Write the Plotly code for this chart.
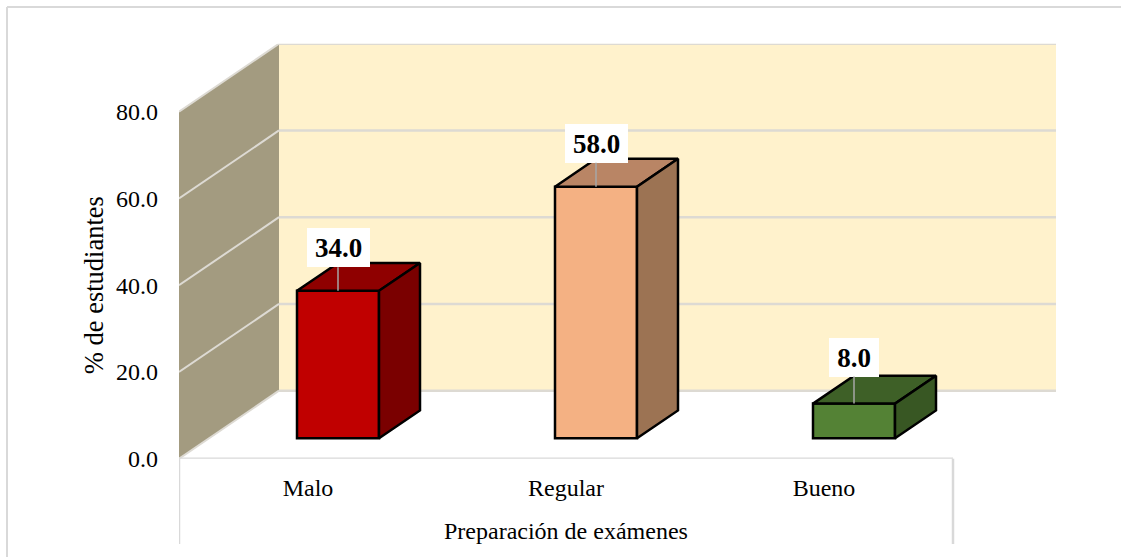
import plotly.graph_objects as go

# ---- data ----
categories = ["Malo", "Regular", "Bueno"]
values = [34.0, 58.0, 8.0]
y_ticks = [0, 20, 40, 60, 80]
x_title = "Preparación de exámenes"
y_title = "% de estudiantes"

front_colors = ["#C00000", "#F4B183", "#548235"]
top_colors = ["#8F0000", "#B98565", "#3E6027"]
side_colors = ["#7A0000", "#9C7353", "#385723"]

# ---- layout geometry (pixels of the 1121x557 page) ----
W, H = 1121, 557
PLOT_L, PLOT_R, PLOT_B, PLOT_T = 179, 1056, 458.7, 43.7
CAT_PX = 258.0        # width of one category on the front plane
VAL_PX = 347 / 80.0   # pixels per value unit
DEPTH_DX = 100 / CAT_PX   # oblique shift of the full depth, in category units
DEPTH_DY = 68 / VAL_PX    # same, in value units
BAR_W = 82 / CAT_PX
BAR_D0, BAR_D1 = 0.30, 0.71

X0 = -0.5
X_END = X0 + (PLOT_R - PLOT_L) / CAT_PX
Y_END = (PLOT_B - PLOT_T) / VAL_PX
X_FRONT_END = X0 + len(categories)


def proj(x, v, d):
    """Oblique projection of (category x, value v, depth d) to axis coords."""
    return x + d * DEPTH_DX, v + d * DEPTH_DY


def poly(points):
    xs, ys = zip(*[proj(*p) for p in points])
    return list(xs) + [xs[0]], list(ys) + [ys[0]]


def path(points):
    pts = [proj(*p) for p in points]
    return "M " + " L ".join(f"{x:.5f},{y:.5f}" for x, y in pts) + " Z"


GRID = "#DDDAD3"
WALL = "#A39B80"
BACK = "#FFF2CC"
FRAME = "#D9D9D9"
FONT = "Liberation Serif"

shapes = []
# back wall and left wall
shapes.append(dict(type="path", layer="below", xref="x", yref="y", line_width=0, fillcolor=BACK,
                   path=path([(X0, 0, 1), (X_END - DEPTH_DX, 0, 1), (X_END - DEPTH_DX, y_ticks[-1], 1), (X0, y_ticks[-1], 1)])))
shapes.append(dict(type="path", layer="below", xref="x", yref="y", line_width=0, fillcolor=WALL,
                   path=path([(X0, 0, 0), (X0, 0, 1), (X0, y_ticks[-1], 1), (X0, y_ticks[-1], 0)])))
# gridlines on both walls
for t in y_ticks:
    x1, y1 = proj(X0, t, 0)
    x2, y2 = proj(X0, t, 1)
    shapes.append(dict(type="line", layer="below", xref="x", yref="y", x0=x1, y0=y1, x1=x2, y1=y2,
                       line=dict(color=GRID, width=2)))
    shapes.append(dict(type="line", layer="below", xref="x", yref="y", x0=x2, y0=y2, x1=X_END, y1=y2,
                       line=dict(color=GRID, width=2.5)))
# category axis frame
shapes.append(dict(type="line", layer="below", xref="x", yref="y", x0=X0, x1=X_FRONT_END, y0=0, y1=0,
                   line=dict(color=FRAME, width=2.5)))
for xv in (X0, X_FRONT_END):
    shapes.append(dict(type="line", layer="below", xref="x", yref="paper", x0=xv, x1=xv,
                       y0=(H - PLOT_B) / H, y1=(H - 544) / H, line=dict(color=FRAME, width=2.5)))
# outer chart frame
shapes.append(dict(type="line", xref="paper", yref="paper", x0=7 / W, x1=1, y0=1 - 7 / H, y1=1 - 7 / H,
                   line=dict(color=FRAME, width=2)))
shapes.append(dict(type="line", xref="paper", yref="paper", x0=7 / W, x1=7 / W, y0=0, y1=1 - 7 / H,
                   line=dict(color=FRAME, width=2)))

fig = go.Figure()

# front faces
bar_x = [proj(i, 0, BAR_D0)[0] for i in range(len(categories))]
bar_base = [proj(i, 0, BAR_D0)[1] for i in range(len(categories))]
fig.add_trace(go.Bar(x=bar_x, y=values, base=bar_base, width=BAR_W,
                     marker=dict(color=front_colors, line=dict(color="black", width=2.5)),
                     hoverinfo="skip", showlegend=False))

# top and side faces
for i, v in enumerate(values):
    l, r = i - BAR_W / 2, i + BAR_W / 2
    tx, ty = poly([(l, v, BAR_D0), (r, v, BAR_D0), (r, v, BAR_D1), (l, v, BAR_D1)])
    sx, sy = poly([(r, 0, BAR_D0), (r, 0, BAR_D1), (r, v, BAR_D1), (r, v, BAR_D0)])
    for xs, ys, c in ((tx, ty, top_colors[i]), (sx, sy, side_colors[i])):
        fig.add_trace(go.Scatter(x=xs, y=ys, mode="lines", fill="toself", fillcolor=c,
                                 line=dict(color="black", width=2.5), hoverinfo="skip",
                                 showlegend=False, cliponaxis=False))

annotations = []
# data labels with leader lines
label_ay = [-43, -43.5, -46.5]
label_w = [63, 63, 50]
for i, v in enumerate(values):
    x, y = proj(i, v, BAR_D0)
    annotations.append(dict(x=x, y=y, xref="x", yref="y", text=f"<b>{v:.1f}</b>", ax=0, ay=label_ay[i],
                            showarrow=True, arrowhead=0, arrowcolor="#A6A6A6", arrowwidth=1.5, standoff=0,
                            bgcolor="white", width=label_w[i], height=39, borderpad=0, borderwidth=0,
                            xanchor="center", yanchor="middle",
                            font=dict(family=FONT, size=27, color="black")))
# axis titles
annotations.append(dict(x=(len(categories) - 1) / 2, y=(H - 530.5) / H, xref="x", yref="paper", text=x_title,
                        showarrow=False, font=dict(family=FONT, size=24, color="black"),
                        xanchor="center", yanchor="middle"))
annotations.append(dict(x=94 / W, y=y_ticks[2], xref="paper", yref="y", text=y_title, textangle=-90,
                        showarrow=False, font=dict(family=FONT, size=26.5, color="black"),
                        xanchor="center", yanchor="middle"))

fig.update_layout(
    width=W, height=H, margin=dict(l=0, r=0, t=0, b=0, autoexpand=False),
    paper_bgcolor="white", plot_bgcolor="rgba(0,0,0,0)",
    shapes=shapes, annotations=annotations, showlegend=False,
    font=dict(family=FONT, size=24, color="black"),
    xaxis=dict(domain=[PLOT_L / W, PLOT_R / W], range=[X0, X_END], tickmode="array", automargin=False,
               tickvals=list(range(len(categories))), ticktext=categories,
               showgrid=False, zeroline=False, showline=False, ticks="", ticklabelstandoff=12,
               tickfont=dict(family=FONT, size=24, color="black")),
    yaxis=dict(domain=[(H - PLOT_B) / H, (H - PLOT_T) / H], range=[0, Y_END], tickmode="array", automargin=False,
               tickvals=y_ticks, ticktext=[f"{t:.1f}" for t in y_ticks],
               showgrid=False, zeroline=False, showline=False, ticks="", ticklabelstandoff=20,
               tickfont=dict(family=FONT, size=24, color="black")),
)

fig.write_html("out.html", config={"displayModeBar": False},
               post_script="document.body.style.margin='0';document.body.style.overflow='hidden';")
